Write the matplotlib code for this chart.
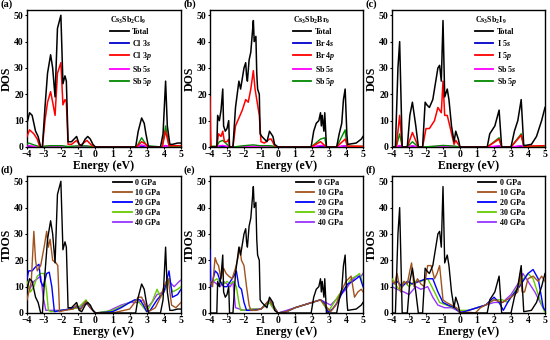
import matplotlib
matplotlib.use("Agg")
import matplotlib.pyplot as plt

plt.rcParams['font.family'] = ['Liberation Serif', 'DejaVu Serif']
plt.rcParams['font.weight'] = 'bold'
plt.rcParams['mathtext.fontset'] = 'custom'
plt.rcParams['mathtext.rm'] = 'Liberation Serif:bold'
plt.rcParams['mathtext.it'] = 'Liberation Serif:italic:bold'
plt.rcParams['mathtext.bf'] = 'Liberation Serif:bold'

# ---------------- Data ----------------
# (a) Cs3Sb2Cl9 PDOS
a_total_x = [-4.0, -3.85, -3.7, -3.5, -3.35, -3.2, -3.1, -2.95, -2.8, -2.62, -2.5, -2.36, -2.22, -2.02, -1.9, -1.78, -1.7, -1.6, -1.4, -1.25, -1.1, -0.95, -0.8, -0.6, -0.45, -0.3, -0.15, 0.0, 2.35, 2.5, 2.7, 2.85, 2.95, 3.1, 3.8, 3.95, 4.1, 4.2, 4.35, 4.5, 4.8, 5.0]
a_total_y = [9, 13, 12, 6, 4, 0, 0, 15, 28, 35, 30, 19, 45, 50, 24, 27, 25, 2, 2, 3, 4, 1, 0.5, 3, 4, 3, 1, 0, 0, 6, 11, 9, 5, 0, 0, 5, 25, 8, 1, 1, 1.5, 1.5]
a_p_x = [-4.0, -3.85, -3.6, -3.4, -3.25, -3.1, -2.95, -2.8, -2.62, -2.5, -2.36, -2.22, -2.02, -1.9, -1.78, -1.7, -1.6, -1.4, -1.1, -0.9, -0.5, -0.2, 0.0, 2.4, 2.7, 2.95, 3.1, 3.9, 4.1, 4.3, 5.0]
a_p_y = [4, 6.5, 5, 3, 0, 0, 10, 17, 21, 17, 12, 28, 32, 16, 18, 17, 1, 1, 2.5, 0.5, 2.5, 0.5, 0, 0, 2, 1, 0, 0, 6, 0.5, 0.5]
a_sbp_x = [-4.0, -3.9, -3.6, -3.2, -3.0, -2.6, -2.0, -1.6, -1.1, -0.5, 0.0, 2.4, 2.7, 3.0, 3.9, 4.1, 4.3, 5.0]
a_sbp_y = [1, 1.5, 0.8, 0, 0.3, 0.5, 0.5, 0.2, 0.4, 0.4, 0, 0, 3.5, 0.5, 0, 8, 0.3, 0.2]
a_sbs_y = [0.3, 0.5, 0.3, 0, 0.2, 0.3, 0.3, 0.1, 0.2, 0.3, 0, 0, 0.8, 0.2, 0, 0.6, 0.1, 0.1]
a_s_y = [0.1, 0.2, 0.1, 0, 0.1, 0.1, 0.1, 0.05, 0.1, 0.1, 0, 0, 0.3, 0.1, 0, 0.5, 0.1, 0.1]

# (b) Cs3Sb2Br9 PDOS
b_total_x = [-4.0, -3.6, -3.55, -3.45, -3.35, -3.25, -3.2, -3.1, -3.0, -2.9, -2.85, -2.65, -2.5, -2.4, -2.3, -2.2, -2.1, -2.0, -1.9, -1.85, -1.8, -1.7, -1.6, -1.5, -1.45, -1.4, -1.3, -1.25, -1.2, -1.1, -1.05, -0.95, -0.8, -0.65, -0.5, -0.4, -0.3, -0.2, 0.0, 1.95, 2.1, 2.25, 2.4, 2.5, 2.55, 2.6, 2.7, 2.75, 2.85, 3.45, 3.6, 3.75, 3.85, 3.95, 4.05, 4.1, 4.6, 4.9, 5.0]
b_total_y = [0, 0, 12, 10, 14, 22, 8, 6, 7, 10, 0, 0, 15, 20, 25, 22, 26, 30, 32, 27, 25, 33, 36, 44, 48, 40, 42, 28, 22, 20, 5, 4, 3, 2, 6, 5, 4, 1, 0, 0, 6, 9, 10, 13, 8, 12, 6, 13, 0, 0, 5, 9, 18, 22, 5, 1, 1.5, 3, 4]
b_p_x = [-4.0, -3.95, -3.6, -3.5, -3.35, -3.25, -3.15, -3.0, -2.9, -2.85, -2.65, -2.5, -2.3, -2.1, -1.9, -1.75, -1.6, -1.45, -1.35, -1.25, -1.1, -1.0, -0.8, -0.5, -0.4, -0.2, 0.0, 1.95, 2.5, 2.85, 3.45, 3.95, 4.1, 5.0]
b_p_y = [19, 0, 0, 5, 4, 6, 2, 2, 3, 0, 0, 8, 11, 14, 18, 17, 22, 29, 22, 18, 12, 2, 1.5, 3, 3, 0.5, 0, 0, 2, 0, 0, 3, 0.3, 0.3]
b_sbp_x = [-4.0, -3.95, -3.6, -3.45, -3.25, -3.0, -2.85, -2.65, -2.0, -1.45, -1.1, -0.5, 0.0, 1.95, 2.5, 2.75, 2.85, 3.45, 3.95, 4.05, 5.0]
b_sbp_y = [6, 0.3, 0.3, 2, 2.5, 1, 0, 0, 0.5, 0.8, 0.5, 0.5, 0, 0, 3, 3.5, 0, 0, 6.5, 0.3, 0.2]
b_sbs_y = [0.5, 0.1, 0.1, 0.5, 0.6, 0.3, 0, 0, 0.2, 0.3, 0.2, 0.3, 0, 0, 0.6, 0.5, 0, 0, 0.5, 0.1, 0.1]
b_s_y = [0.3, 0.1, 0.1, 0.2, 0.2, 0.1, 0, 0, 0.1, 0.1, 0.1, 0.1, 0, 0, 0.2, 0.2, 0, 0, 0.4, 0.1, 0.1]

# (c) Cs3Sb2I9 PDOS
c_total_x = [-4.0, -3.8, -3.65, -3.55, -3.4, -3.1, -2.95, -2.8, -2.6, -2.45, -2.2, -2.05, -1.95, -1.8, -1.6, -1.45, -1.3, -1.2, -1.1, -1.0, -0.9, -0.75, -0.65, -0.5, -0.35, -0.25, -0.1, 0.0, 1.6, 1.75, 1.95, 2.05, 2.3, 2.45, 3.0, 3.2, 3.4, 3.6, 3.75, 4.2, 4.5, 4.8, 5.0]
c_total_y = [0, 0, 30, 40, 0, 0, 12, 17, 8, 0, 0, 17, 16, 15, 18, 24, 30, 31, 25, 48, 19, 22, 18, 8, 2, 6, 3, 0, 0, 5, 7, 8, 14, 0, 0, 6, 10, 18, 0.5, 1, 4, 10, 15]
c_p_x = [-4.0, -3.75, -3.55, -3.4, -3.1, -2.8, -2.45, -2.2, -2.0, -1.8, -1.5, -1.3, -1.1, -1.0, -0.9, -0.75, -0.6, -0.35, -0.25, 0.0, 1.6, 2.3, 2.45, 3.0, 3.6, 3.75, 5.0]
c_p_y = [0, 0, 12, 0, 0, 5.5, 0, 0, 7, 7, 10, 15, 13, 25, 12, 12, 8, 1, 2.5, 0, 0, 3, 0, 0, 4.5, 0.3, 0.5]
c_sbp_x = [-4.0, -3.75, -3.55, -3.4, -3.1, -2.8, -2.45, -2.2, -1.5, -1.0, -0.3, 0.0, 1.6, 2.3, 2.45, 3.0, 3.6, 3.75, 5.0]
c_sbp_y = [0, 0, 5, 0, 0, 2, 0, 0, 0.3, 0.6, 0.3, 0, 0, 3.5, 0, 0, 5, 0.3, 0.2]
c_sbs_y = [0, 0, 0.6, 0, 0, 0.5, 0, 0, 0.2, 0.3, 0.2, 0, 0, 0.5, 0, 0, 0.5, 0.1, 0.1]
c_s_y = [0, 0, 0.4, 0, 0, 0.3, 0, 0, 0.1, 0.1, 0.1, 0, 0, 0.2, 0, 0, 0.3, 0.1, 0.1]

# (d) Cs3Sb2Cl9 TDOS under pressure
d_10_x = [-4.0, -3.75, -3.6, -3.5, -3.4, -3.2, -3.0, -2.85, -2.75, -2.65, -2.5, -2.3, -2.2, -2.1, -1.8, -1.3, -1.1, -0.9, -0.55, -0.3, 0.0, 1.0, 2.0, 2.3, 2.5, 2.7, 2.9, 3.1, 3.5, 3.8, 4.0, 4.25, 4.45, 4.7, 5.0]
d_10_y = [5, 12, 31, 20, 16, 18, 25, 31, 25, 28, 20, 19, 18, 0.5, 1, 1.5, 3, 1, 4.5, 2, 0, 0, 1.5, 4, 6, 6, 3, 0.5, 2, 6, 10, 13, 3, 2, 4]
d_20_x = [-4.0, -3.9, -3.7, -3.5, -3.3, -3.2, -3.05, -2.85, -2.7, -2.55, -2.4, -2.0, -1.5, -1.1, -0.9, -0.55, -0.3, 0.0, 1.0, 1.5, 2.0, 2.3, 2.6, 2.8, 3.0, 3.2, 3.6, 4.0, 4.3, 4.5, 4.8, 5.0]
d_20_y = [13, 16, 16, 17.5, 18.5, 12, 10, 15, 15.5, 10, 0.5, 1, 1.5, 2.5, 1.5, 4, 2, 0, 0.5, 2, 4, 5, 5, 3, 0.5, 1, 5, 8, 16, 6, 7, 9]
d_30_x = [-4.0, -3.8, -3.6, -3.4, -3.2, -3.0, -2.85, -2.75, -2.6, -2.0, -1.5, -1.0, -0.55, -0.3, 0.0, 1.0, 1.5, 2.0, 2.4, 2.7, 3.0, 3.3, 3.6, 3.8, 4.0, 4.3, 4.5, 4.8, 5.0]
d_30_y = [12, 8, 10, 14, 15, 15, 8, 1, 0.5, 1, 1.5, 2, 5, 2, 0, 1, 2.5, 4, 5, 3, 0.5, 4, 9, 6, 8, 13, 8, 9, 10]
d_40_x = [-4.0, -3.85, -3.6, -3.4, -3.2, -3.05, -2.9, -2.5, -2.0, -1.5, -1.0, -0.55, -0.3, 0.0, 0.7, 1.0, 1.5, 2.0, 2.5, 2.8, 3.0, 3.3, 3.6, 4.0, 4.3, 4.6, 4.9, 5.0]
d_40_y = [10, 9, 12, 13, 14, 6, 1, 1, 1, 1.5, 2, 4.5, 2, 0, 0.5, 1.5, 3, 4, 4, 5, 2, 4, 7, 8, 12, 10, 12, 12.5]

# (e) Cs3Sb2Br9 TDOS under pressure
e_10_x = [-4.0, -3.85, -3.7, -3.6, -3.5, -3.35, -3.2, -3.05, -2.9, -2.7, -2.5, -2.35, -2.25, -2.15, -2.0, -1.85, -1.7, -1.6, -1.3, -1.0, -0.5, -0.3, 0.0, 0.5, 1.0, 1.5, 2.0, 2.5, 2.75, 2.9, 3.1, 3.4, 3.7, 4.0, 4.3, 4.5, 4.7, 4.9, 5.0]
e_10_y = [12, 10, 21, 19, 18, 13, 17, 15, 14, 13, 17, 21, 25, 20, 18, 10, 3, 1, 1, 1.5, 5, 3, 0, 0.5, 2, 3, 4, 5, 3, 2, 0.5, 3, 8, 12, 14, 6, 8, 9, 8]
e_20_x = [-4.0, -3.95, -3.85, -3.7, -3.55, -3.4, -3.2, -3.0, -2.8, -2.6, -2.45, -2.3, -2.15, -2.0, -1.85, -1.5, -1.0, -0.5, -0.3, 0.0, 0.5, 1.0, 1.5, 2.0, 2.5, 2.7, 2.95, 3.2, 3.5, 3.8, 4.1, 4.4, 4.8, 5.0]
e_20_y = [24, 10, 12, 16, 15, 12, 10, 10, 12, 14, 16, 10, 9, 4, 1, 1, 1.5, 5, 3, 0, 0.5, 2, 3, 4, 5, 4, 0.3, 1.5, 4, 8, 11, 12, 14, 10]
e_30_x = [-4.0, -3.8, -3.6, -3.4, -3.2, -3.0, -2.8, -2.6, -2.45, -2.3, -2.2, -1.5, -1.0, -0.5, -0.3, 0.0, 0.5, 1.0, 1.5, 2.0, 2.5, 2.8, 3.0, 3.3, 3.6, 4.0, 4.3, 4.6, 4.8, 5.0]
e_30_y = [11, 12, 13, 12, 11, 12, 11, 12, 10, 4, 1, 1.5, 1.5, 4, 2, 0, 0.5, 2, 3, 4, 5, 2, 1, 4, 7, 10, 13, 14, 15, 11]
e_40_x = [-4.0, -3.8, -3.6, -3.4, -3.2, -3.0, -2.8, -2.65, -2.5, -2.0, -1.5, -1.0, -0.5, -0.3, 0.0, 0.5, 1.0, 1.5, 2.0, 2.5, 2.8, 3.1, 3.4, 3.7, 4.0, 4.3, 4.6, 4.9, 5.0]
e_40_y = [10, 12, 11, 10, 12, 11, 10, 12, 2, 1, 1.5, 1.5, 4, 2, 0, 1, 2, 3, 4, 5, 4, 3, 5, 7, 9, 12, 14, 14, 15]

# (f) Cs3Sb2I9 TDOS under pressure
f_10_x = [-4.0, -3.85, -3.7, -3.5, -3.3, -3.1, -2.95, -2.85, -2.7, -2.5, -2.3, -2.1, -1.9, -1.7, -1.5, -1.35, -1.2, -1.0, -0.8, -0.5, -0.2, 0.0, 0.5, 0.9, 1.2, 1.5, 2.0, 2.5, 3.0, 3.4, 3.55, 3.65, 3.8, 4.0, 4.3, 4.6, 4.8, 5.0]
f_10_y = [12, 11, 15, 8, 12, 11, 16, 19, 10, 13, 11, 10, 18, 18, 13, 15, 18, 5, 4, 3, 2, 0, 0.3, 0, 2, 3, 5, 4, 6, 8, 15, 8, 8, 13, 14, 12, 14, 12]
f_20_x = [-4.0, -3.7, -3.4, -3.1, -2.8, -2.4, -2.0, -1.6, -1.3, -1.0, -0.7, -0.3, 0.0, 0.5, 1.0, 1.5, 2.0, 2.3, 2.55, 2.8, 3.0, 3.5, 4.0, 4.3, 4.6, 4.9, 5.0]
f_20_y = [11, 12, 10, 12, 11, 12, 13, 13, 8, 4, 3, 2, 0, 1, 2, 3, 6, 4, 1, 4, 6, 10, 15, 16.5, 13, 2, 1]
f_30_x = [-4.0, -3.6, -3.3, -3.0, -2.7, -2.3, -1.9, -1.5, -1.2, -0.8, -0.4, 0.0, 0.5, 1.0, 1.5, 2.0, 2.5, 2.8, 3.2, 3.6, 4.0, 4.3, 4.7, 5.0]
f_30_y = [13, 9, 12, 10, 12, 12, 13, 8, 4, 3, 2, 1, 1, 2, 3, 5, 5, 4, 8, 12, 15, 13, 5, 0]
f_40_x = [-4.0, -3.7, -3.3, -3.0, -2.6, -2.3, -1.9, -1.6, -1.3, -0.9, -0.5, 0.0, 0.5, 1.0, 1.5, 2.0, 2.5, 3.0, 3.5, 3.7, 4.0, 4.4, 4.8, 5.0]
f_40_y = [10, 9, 8, 7, 10, 9, 10, 6, 3, 2, 2, 0.5, 1, 2, 3, 4, 4, 7, 12, 15, 12, 8, 3, 1]

panel_labels = ['(a)', '(b)', '(c)', '(d)', '(e)', '(f)']
compound_titles = [r'Cs$_3$Sb$_2$Cl$_9$', r'Cs$_3$Sb$_2$Br$_9$', r'Cs$_3$Sb$_2$I$_9$']
pdos_labels = [
    ['Total', r'Cl 3$s$', r'Cl 3$p$', r'Sb 5$s$', r'Sb 5$p$'],
    ['Total', r'Br 4$s$', r'Br 4$p$', r'Sb 5$s$', r'Sb 5$p$'],
    ['Total', r'I 5$s$', r'I 5$p$', r'Sb 5$s$', r'Sb 5$p$'],
]
pressure_labels = ['0 GPa', '10 GPa', '20 GPa', '30 GPa', '40 GPa']
xticks = [-4, -3, -2, -1, 0, 1, 2, 3, 4, 5]
yticks = [0, 10, 20, 30, 40, 50]

pdos_colors = ['black', '#0000cc', '#ff0000', '#ff00ff', '#008800']
pres_colors = ['black', '#a0521d', '#0000ff', '#66cc00', '#9933ff']

# ---------------- Figure ----------------
W, H = 550, 340
fig = plt.figure(figsize=(5.5, 3.4), dpi=100)

lefts = [27, 210, 392]
rights = [181, 363, 545]
top_row = (10, 147)
bot_row = (176, 313)

def make_ax(i, row):
    t, b = row
    l, r = lefts[i], rights[i]
    return fig.add_axes([l / W, 1 - b / H, (r - l) / W, (b - t) / H])

def style(ax, ylabel, label):
    ax.set_xlim(-4, 5)
    ax.set_ylim(0, 52)
    ax.set_xticks(xticks)
    ax.set_yticks(yticks)
    ax.tick_params(direction='out', length=1.5, width=0.8, labelsize=7)
    ax.tick_params(axis='x', pad=0.8)
    ax.tick_params(axis='y', pad=0.8)
    for lab in ax.get_xticklabels() + ax.get_yticklabels():
        lab.set_fontweight('bold')
    for s in ax.spines.values():
        s.set_linewidth(1.0)
    ax.set_xlabel('Energy (eV)', fontsize=8.5, fontweight='bold', labelpad=0.5)
    ax.set_ylabel(ylabel, fontsize=8.5, fontweight='bold', labelpad=1)
    ax.text(-0.17, 1.01, label, transform=ax.transAxes, fontsize=7.5,
            fontweight='bold', ha='left', va='bottom')

top_data = [
    (a_total_x, a_total_y, a_p_x, a_p_y, a_sbp_x, a_s_y, a_sbs_y, a_sbp_y),
    (b_total_x, b_total_y, b_p_x, b_p_y, b_sbp_x, b_s_y, b_sbs_y, b_sbp_y),
    (c_total_x, c_total_y, c_p_x, c_p_y, c_sbp_x, c_s_y, c_sbs_y, c_sbp_y),
]
for i in range(3):
    ax = make_ax(i, top_row)
    tx, ty, px, py, ox, sy, ssy, spy = top_data[i]
    labs = pdos_labels[i]
    ax.plot(tx, ty, color=pdos_colors[0], lw=1.1, label=labs[0], zorder=5)
    ax.plot(ox, sy, color=pdos_colors[1], lw=1.0, label=labs[1], zorder=2)
    ax.plot(px, py, color=pdos_colors[2], lw=1.1, label=labs[2], zorder=4)
    ax.plot(ox, ssy, color=pdos_colors[3], lw=1.0, label=labs[3], zorder=3)
    ax.plot(ox, spy, color=pdos_colors[4], lw=1.0, label=labs[4], zorder=3)
    style(ax, 'DOS', panel_labels[i])
    leg = ax.legend(loc='upper left', bbox_to_anchor=(0.52, 0.99), frameon=False,
                    fontsize=5.8, title=compound_titles[i], title_fontsize=5.8,
                    handlelength=2.3, handletextpad=0.4, labelspacing=0.25,
                    borderaxespad=0.0, alignment='left')
    for line in leg.get_lines():
        line.set_linewidth(1.3)

bot_data = [
    (a_total_x, a_total_y, d_10_x, d_10_y, d_20_x, d_20_y, d_30_x, d_30_y, d_40_x, d_40_y),
    (b_total_x, b_total_y, e_10_x, e_10_y, e_20_x, e_20_y, e_30_x, e_30_y, e_40_x, e_40_y),
    (c_total_x, c_total_y, f_10_x, f_10_y, f_20_x, f_20_y, f_30_x, f_30_y, f_40_x, f_40_y),
]
for i in range(3):
    ax = make_ax(i, bot_row)
    d = bot_data[i]
    for k in range(5):
        ax.plot(d[2 * k], d[2 * k + 1], color=pres_colors[k], lw=1.0,
                label=pressure_labels[k], zorder=6 - k)
    style(ax, 'TDOS', panel_labels[3 + i])
    leg = ax.legend(loc='upper left', bbox_to_anchor=(0.54, 1.0), frameon=False,
                    fontsize=5.8, handlelength=2.3, handletextpad=0.4,
                    labelspacing=0.25, borderaxespad=0.0)
    for line in leg.get_lines():
        line.set_linewidth(1.3)

fig.savefig('out.png', dpi=100)
